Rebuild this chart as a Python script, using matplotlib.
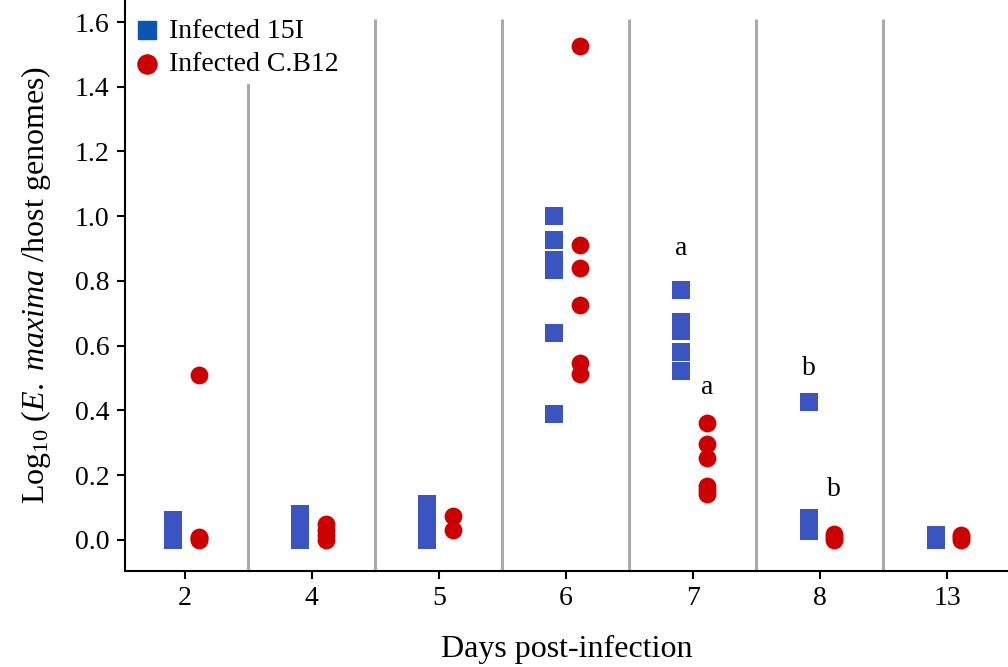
import numpy as np
import matplotlib.pyplot as plt

plt.rcParams['font.family'] = ['Liberation Serif', 'DejaVu Serif']
plt.rcParams['mathtext.fontset'] = 'custom'
plt.rcParams['mathtext.rm'] = 'Liberation Serif'
plt.rcParams['mathtext.it'] = 'Liberation Serif:italic'

days = ['2', '4', '5', '6', '7', '8', '13']

# log10 parasite load per bird, one list per day
strain_15i = [
    [0.0, 0.01, 0.02, 0.03, 0.04, 0.05, 0.062],
    [0.0, 0.015, 0.03, 0.045, 0.06, 0.08],
    [0.0, 0.02, 0.04, 0.06, 0.08, 0.1, 0.11],
    [1.0, 0.926, 0.865, 0.835, 0.638, 0.39],
    [0.772, 0.674, 0.644, 0.581, 0.523],
    [0.425, 0.069, 0.05, 0.026],
    [0.0, 0.01, 0.015],
]
strain_cb12 = [
    [0.509, 0.01, 0.0, 0.005],
    [0.05, 0.03, 0.015, 0.0],
    [0.075, 0.03],
    [1.525, 0.91, 0.84, 0.725, 0.547, 0.513],
    [0.362, 0.297, 0.254, 0.168, 0.155, 0.143],
    [0.017, 0.0, 0.008],
    [0.0, 0.01, 0.015],
]

# significance letters: (day index, series offset, y)
letters = [(4, -0.09, 0.90, 'a'), (4, 0.11, 0.47, 'a'),
           (5, -0.09, 0.53, 'b'), (5, 0.11, 0.157, 'b')]

blue = '#3a55c0'
red = '#cc0000'

fig, ax = plt.subplots(figsize=(10.08, 6.67), dpi=100)
fig.subplots_adjust(left=0.124, right=1.0, bottom=0.144, top=1.0)

for i in range(len(days)):
    ax.scatter(np.full(len(strain_15i[i]), i - 0.09), strain_15i[i],
               marker='s', s=150, color=blue, linewidths=0, zorder=3)
    ax.scatter(np.full(len(strain_cb12[i]), i + 0.11), strain_cb12[i],
               marker='o', s=165, color=red, linewidths=0, zorder=3)

for i in range(len(days) - 1):
    ax.vlines(i + 0.5, -0.1, 1.61, color='#aaaaaa', lw=2.2, zorder=1)

for i, off, y, t in letters:
    ax.text(i + off, y, t, ha='center', va='center', fontsize=20)

# legend handles only
ax.scatter([], [], marker='s', s=170, color='#0b55b0', label='Infected 15I')
ax.scatter([], [], marker='o', s=190, color=red, label='Infected C.B12')
leg = ax.legend(loc='upper left', bbox_to_anchor=(-0.005, 0.99), frameon=True,
                fontsize=20, handletextpad=0.3, handlelength=1.0, borderpad=0.25,
                labelspacing=0.3, borderaxespad=0.2)
leg.get_frame().set_edgecolor('none')
leg.get_frame().set_facecolor('white')
leg.get_frame().set_alpha(1)
leg.set_zorder(5)

ax.set_xlim(-0.47, 6.48)
ax.set_ylim(-0.096, 1.668)
ax.set_xticks(range(len(days)))
ax.set_xticklabels(days)
ax.set_yticks(np.arange(0, 1.61, 0.2))
ax.set_yticklabels([f'{v:.1f}' for v in np.arange(0, 1.61, 0.2)])
ax.tick_params(labelsize=20, length=6, width=1.5, direction='out', pad=5)

for s in ['top', 'right']:
    ax.spines[s].set_visible(False)
for s in ['left', 'bottom']:
    ax.spines[s].set_linewidth(1.5)

ax.set_xlabel('Days post-infection', fontsize=23, labelpad=17)
ax.set_ylabel(r'Log$_{10}$ ($\mathit{E.\ maxima}$ /host genomes)', fontsize=23, labelpad=16)

fig.savefig('out.png', dpi=100)
